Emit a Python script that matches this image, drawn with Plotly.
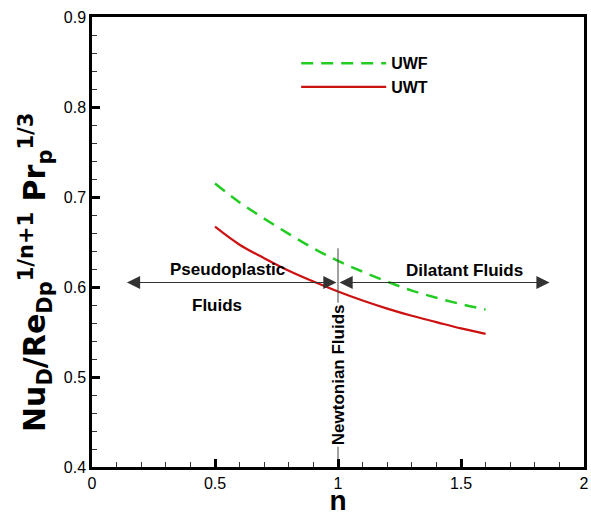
import plotly.graph_objects as go

n_vals = [0.5, 0.6, 0.7, 0.8, 0.9, 1.0, 1.1, 1.2, 1.3, 1.4, 1.5, 1.6]
uwf = [0.715, 0.694, 0.676, 0.659, 0.643, 0.629, 0.617, 0.606, 0.596, 0.588, 0.581, 0.575]
uwt = [0.667, 0.647, 0.632, 0.618, 0.606, 0.595, 0.585, 0.576, 0.568, 0.561, 0.554, 0.548]

FONT = "Liberation Sans, Arial, sans-serif"
TITLE_FONT = "DejaVu Sans, Liberation Sans, sans-serif"

fig = go.Figure()
fig.add_trace(go.Scatter(x=n_vals, y=uwf, mode="lines", name="<b>UWF</b>",
                         line=dict(color="#22cc22", width=2.5, dash="12px,8px", shape="spline")))
fig.add_trace(go.Scatter(x=n_vals, y=uwt, mode="lines", name="<b>UWT</b>",
                         line=dict(color="#cc1111", width=2.2, shape="spline")))

# Newtonian vertical line
fig.add_shape(type="line", x0=1, x1=1, y0=0.408, y1=0.643, xref="x", yref="y",
              line=dict(color="#444444", width=1))

arrow_common = dict(xref="x", yref="y", axref="x", ayref="y", text="",
                    showarrow=True, arrowhead=2, arrowsize=2.4, arrowwidth=1.1,
                    arrowcolor="#333333", arrowside="end+start")
fig.add_annotation(x=0.142, y=0.605, ax=1.0, ay=0.605, **arrow_common)
fig.add_annotation(x=1.86, y=0.605, ax=1.0, ay=0.605, **arrow_common)

txt = dict(xref="x", yref="y", showarrow=False,
           font=dict(family=FONT, size=17, color="black"))
fig.add_annotation(x=0.55, y=0.619, text="<b>Pseudoplastic</b>", **txt)
fig.add_annotation(x=0.51, y=0.58, text="<b>Fluids</b>", **txt)
fig.add_annotation(x=1.516, y=0.618, text="<b>Dilatant Fluids</b>", **txt)
fig.add_annotation(x=1.0, y=0.502, text="<b>Newtonian Fluids</b>", textangle=-90,
                   bgcolor="white", **txt)

# y-axis title as a rotated annotation
fig.add_annotation(xref="paper", yref="paper", x=-0.116, y=0.433, showarrow=False,
                   textangle=-90, xanchor="center", yanchor="middle",
                   text="<b>Nu<sub>D</sub>/Re<sub>Dp</sub><sup>1/n+1</sup> Pr<sub>p</sub><sup>1/3</sup></b>",
                   font=dict(family=TITLE_FONT, size=30, color="black"))

axis_common = dict(showgrid=False, zeroline=False, showline=True, linecolor="black",
                   linewidth=2.5, mirror=True, ticks="inside", ticklen=8, tickwidth=2.5,
                   tickcolor="black", automargin=False,
                   tickfont=dict(family=FONT, size=16, color="black"))

fig.update_xaxes(range=[0, 2], dtick=0.5,
                 minor=dict(dtick=0.1, ticks="inside", ticklen=5, tickwidth=1, tickcolor="#333"),
                 title=dict(text="<b>n</b>", font=dict(family=FONT, size=28, color="black"),
                            standoff=7),
                 **axis_common)
fig.update_yaxes(range=[0.4, 0.9], dtick=0.1,
                 minor=dict(dtick=0.02, ticks="inside", ticklen=5, tickwidth=1, tickcolor="#333"),
                 **axis_common)

fig.update_layout(
    width=591, height=516,
    margin=dict(l=92, r=7, t=17, b=49),
    plot_bgcolor="white", paper_bgcolor="white",
    font=dict(family=FONT, color="black"),
    showlegend=True,
    legend=dict(x=0.415, y=0.935, xanchor="left", yanchor="top",
                bgcolor="rgba(0,0,0,0)", itemwidth=85, tracegroupgap=0,
                font=dict(family=FONT, size=16, color="black")),
)

fig.write_html("out.html", config={"displayModeBar": False},
               post_script="document.body.style.margin='0';document.body.style.overflow='hidden';")
